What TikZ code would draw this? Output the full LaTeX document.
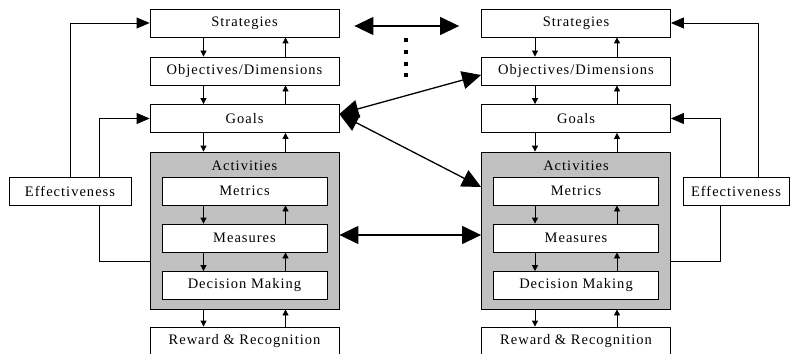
\documentclass[tikz,border=0pt]{standalone}
\usepackage{fontspec}
\setmainfont{Liberation Serif}[LetterSpace=7]
\usepackage{tikz}
\usetikzlibrary{arrows.meta}
\definecolor{actgray}{RGB}{192,192,192}

\tikzset{
  stepbox/.style={draw, fill=white, line width=0.8pt, minimum width=189pt, minimum height=28pt, inner sep=0pt, font=\fontsize{14.5}{16}\selectfont},
  subbox/.style={stepbox, minimum width=165pt},
  effbox/.style={stepbox, minimum width=122pt},
  smallarr/.style={line width=0.8pt, -{Triangle[length=6pt,width=6pt]}},
  fbarr/.style={line width=0.8pt, -{Triangle[length=13pt,width=11pt]}},
  bigarr/.style={line width=1.3pt, {Triangle[length=19pt,width=18pt]}-{Triangle[length=19pt,width=18pt]}}
}

\begin{document}
\begin{tikzpicture}[x=1pt,y=1pt,yscale=-1,xscale=1]
  \clip (0,0) rectangle (791,353);
  \useasboundingbox (0,0) rectangle (791,353);

  %Left column
  \node [stepbox] (strL) at (244.5,23) {Strategies};
  \node [stepbox] (objL) at (244.5,71) {Objectives/Dimensions};
  \node [stepbox] (goalL) at (244.5,118.5) {Goals};
  \node [stepbox, fill=actgray, minimum height=157pt, label={[anchor=north, font=\fontsize{14.5}{16}\selectfont, yshift=-6pt]north:Activities}] (actL) at (244.5,230.5) {};
  \node [subbox] (metL) at (244.5,191) {Metrics};
  \node [subbox] (meaL) at (244.5,238) {Measures};
  \node [subbox] (decL) at (244.5,285.5) {Decision Making};
  \node [stepbox] (rewL) at (244.5,341) {Reward \& Recognition};
  \node [effbox] (effL) at (70,191) {Effectiveness};

  %Right column
  \node [stepbox] (strR) at (576,23) {Strategies};
  \node [stepbox] (objR) at (576,71) {Objectives/Dimensions};
  \node [stepbox] (goalR) at (576,118.5) {Goals};
  \node [stepbox, fill=actgray, minimum height=157pt, label={[anchor=north, font=\fontsize{14.5}{16}\selectfont, yshift=-6pt]north:Activities}] (actR) at (576,230.5) {};
  \node [subbox] (metR) at (576,191) {Metrics};
  \node [subbox] (meaR) at (576,238) {Measures};
  \node [subbox] (decR) at (576,285.5) {Decision Making};
  \node [stepbox] (rewR) at (576,341) {Reward \& Recognition};
  \node [effbox, minimum width=106pt] (effR) at (736,191) {Effectiveness};

  %Down / up arrows
  \foreach \col in {L,R}{
    \foreach \a/\b in {str/obj, obj/goal, goal/act, met/mea, mea/dec, act/rew}{
      \draw [smallarr] ([xshift=-41pt]\a\col.south) -- ([xshift=-41pt]\b\col.north);
      \draw [smallarr] ([xshift=41pt]\b\col.north) -- ([xshift=41pt]\a\col.south);
    }
  }

  %Feedback loops
  \draw [fbarr] (effL.north) |- (strL.west);
  \draw [fbarr] ([xshift=29pt]effL.north) |- (goalL.west);
  \draw [line width=0.8pt] ([xshift=29pt]effL.south) |- ([yshift=30.5pt]actL.west);
  \draw [fbarr] ([xshift=22pt]effR.north) |- (strR.east);
  \draw [fbarr] ([xshift=-16pt]effR.north) |- (goalR.east);
  \draw [line width=0.8pt] ([xshift=-16pt]effR.south) |- ([yshift=30.5pt]actR.east);

  %Links between the two columns
  \draw [bigarr] ([xshift=15pt,yshift=3pt]strL.east) -- ([xshift=-22pt,yshift=3pt]strR.west);
  \draw [bigarr] ([yshift=-4.5pt]goalL.east) -- ([yshift=4pt]objR.west);
  \draw [bigarr] ([yshift=-4.5pt]goalL.east) -- ([yshift=-43.5pt]actR.west);
  \draw [bigarr] ([yshift=4.5pt]actL.east) -- ([yshift=4.5pt]actR.west);

  %Dots
  \coordinate (dotTop) at (406,38.3);
  \coordinate (dotBot) at (406,84);
  \draw [line width=4pt, dash pattern=on 4pt off 7.6pt] (dotTop) -- (dotBot);
\end{tikzpicture}
\end{document}
